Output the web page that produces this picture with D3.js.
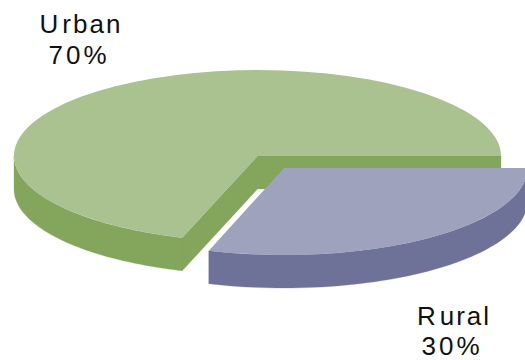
<!DOCTYPE html>
<html>
<head>
<meta charset="utf-8">
<script src="https://cdn.jsdelivr.net/npm/d3@7"></script>
<style>
  html, body { margin: 0; padding: 0; background: #fff; overflow: hidden; }
  text { font-family: "Liberation Sans", Arial, sans-serif; font-size: 26px; fill: #111; }
</style>
</head>
<body>
<div id="chart"></div>
<script>
const categories = ["Rural", "Urban"]
const values = [30, 70]
const percentLabels = ["30%", "70%"]

const width = 525, height = 360
const rx = 243.5, depth = 33

// center of each slice, rural is pulled out of the pie
const centers = { Rural: [284, 168], Urban: [257.5, 156] }
const radiusY = { Rural: 87, Urban: 86 }
const topColor = { Rural: "#9EA2BC", Urban: "#A9C28F" }
const sideColor = { Rural: "#6E7298", Urban: "#84A55C" }
const labelPos = {
    Rural: [[454, 325], [452, 355]],
    Urban: [[81, 33], [79, 64]]
}

const svg = d3.select("#chart")
    .append("svg")
    .attr("width", width)
    .attr("height", height)
    .style("display", "block")

// starts at 3 o'clock and goes clockwise
const pie = d3.pie().sort(null).startAngle(Math.PI / 2).endAngle(Math.PI * 2.5)
const slices = pie(values).map((d, i) => ({ ...d, name: categories[i], pct: percentLabels[i] }))

const arc = d3.arc().innerRadius(0).outerRadius(rx)
const line = d3.line()

const px = (c, ry, a) => [c[0] + rx * Math.sin(a), c[1] - ry * Math.cos(a)]

// outer wall, only the part of the rim that faces the viewer
const wall = (c, ry, a0, a1) => {
    const rim = d3.range(0, 61).map(i => px(c, ry, a0 + (a1 - a0) * i / 60))
    const low = rim.map(p => [p[0], p[1] + depth]).reverse()
    return line(rim.concat(low)) + "Z"
}

// flat cut face going from the center to the rim
const face = (c, ry, a) => {
    const p = px(c, ry, a)
    return line([c, p, [p[0], p[1] + depth], [c[0], c[1] + depth]]) + "Z"
}

slices.slice().reverse().forEach(d => {
    const c = centers[d.name]
    const ry = radiusY[d.name]
    const g = svg.append("g")
    // one single path for the sides, otherwise hairline seams show up between them
    const side = d.name === "Urban"
        ? face(c, ry, d.startAngle) + face(c, ry, d.endAngle) + wall(c, ry, d.startAngle, Math.PI * 1.5)
        : wall(c, ry, d.startAngle, d.endAngle)
    g.append("path")
        .attr("d", side)
        .attr("fill", sideColor[d.name])
        .attr("stroke", sideColor[d.name])
        .attr("stroke-width", 0.3)
    g.append("path")
        .attr("d", arc(d))
        .attr("transform", "translate(" + c[0] + "," + c[1] + ") scale(1," + (ry / rx) + ")")
        .attr("fill", topColor[d.name])

    const pos = labelPos[d.name]
    // the first letter sits a bit apart from the rest in the original
    const nameText = svg.append("text")
        .attr("x", pos[0][0]).attr("y", pos[0][1])
        .attr("text-anchor", "middle")
        .style("letter-spacing", "2px")
    nameText.append("tspan").style("letter-spacing", "4px").text(d.name.slice(0, 1))
    nameText.append("tspan").text(d.name.slice(1))
    svg.append("text")
        .attr("x", pos[1][0]).attr("y", pos[1][1])
        .attr("text-anchor", "middle")
        .style("letter-spacing", "3px")
        .text(d.pct)
})
</script>
</body>
</html>
